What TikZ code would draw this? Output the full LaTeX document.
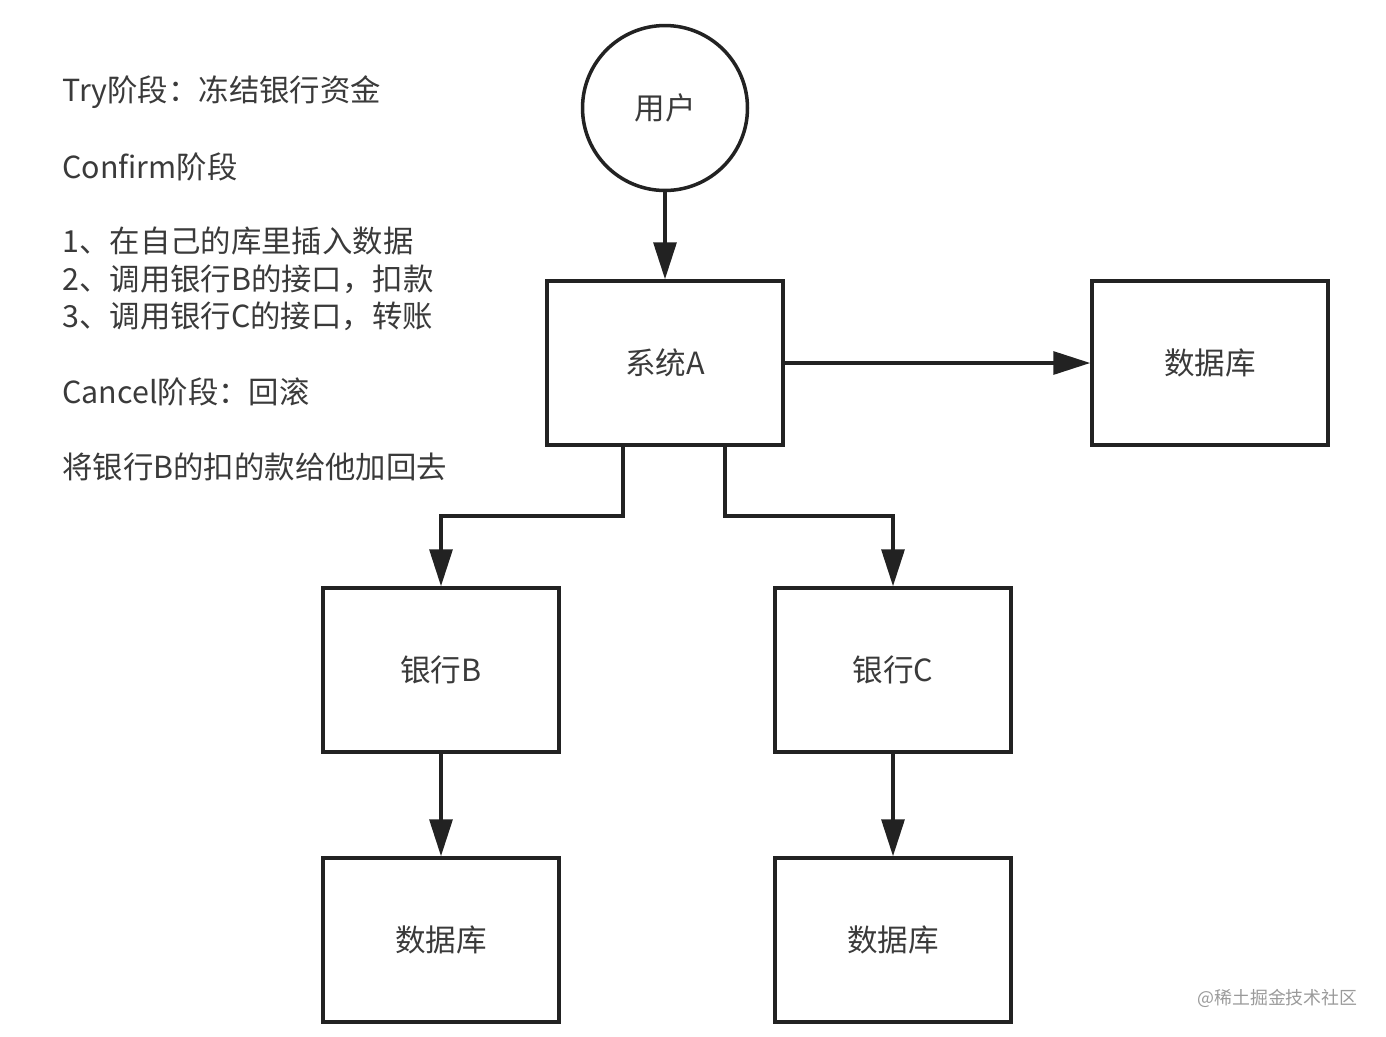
\documentclass[tikz,border=0pt]{standalone}
\usepackage{fontspec}
\setmainfont{Noto Sans CJK SC}
\usepackage{xcolor}
\usepackage{tikz}
\usetikzlibrary{arrows.meta}
\usetikzlibrary{positioning}
\definecolor{linegray}{HTML}{222222}
\definecolor{textgray}{HTML}{3A3A3A}
\definecolor{markgray}{HTML}{9A9A9A}
\tikzset{
    tnode/.style = {align=center, inner sep=0pt, text centered, text=textgray, font=\fontsize{17.4pt}{21pt}\selectfont},
    user_node/.style = {tnode, circle, draw=linegray, line width=2pt, minimum size=3.3cm},
    box_node/.style = {tnode, rectangle, draw=linegray, line width=2pt, minimum width=4.72cm, minimum height=3.28cm},
    note/.style = {align=left, inner sep=0pt, anchor=west, text=textgray, font=\fontsize{17.3pt}{21.3pt}\selectfont},
    flow/.style = {-{Triangle[width=13pt, length=21pt]}, draw=linegray, line width=2pt}
}

\begin{document}
\begin{tikzpicture}
            [x=0.02cm, y=-0.02cm]
            \useasboundingbox (0,0) rectangle (1386,1036);

            % left notes
            \node [note] (try) at (62,92) {Try阶段：冻结银行资金};
            \node [note] (confirm) at (62,167) {Confirm阶段};
            \node [note] (steps) at (62,279) {1、在自己的库里插入数据\\2、调用银行B的接口，扣款\\3、调用银行C的接口，转账};
            \node [note] (cancel) at (62,392) {Cancel阶段：回滚};
            \node [note] (undo) at (62,467) {将银行B的扣的款给他加回去};

            % diagram
            \node [user_node] (user) at (665,108) {用户};
            \node [box_node] (sysA) at (665,363) {系统A};
            \node [box_node] (dbA) at (1210,363) {数据库};
            \node [box_node] (bankB) at (441,670) {银行B};
            \node [box_node] (bankC) at (893,670) {银行C};
            \node [box_node] (dbB) at (441,940) {数据库};
            \node [box_node] (dbC) at (893,940) {数据库};

            \draw [flow] (user) -- (sysA);
            \draw [flow] (sysA) -- (dbA);
            \draw [flow] ([xshift=-0.84cm]sysA.south) |- (441,516) -- (bankB.north);
            \draw [flow] ([xshift=1.2cm]sysA.south) |- (893,516) -- (bankC.north);
            \draw [flow] (bankB) -- (dbB);
            \draw [flow] (bankC) -- (dbC);

            \node [anchor=east, inner sep=0pt, text=markgray, font=\fontsize{10.2pt}{12pt}\selectfont] (mark) at (1358,998) {@稀土掘金技术社区};
\end{tikzpicture}
\end{document}
